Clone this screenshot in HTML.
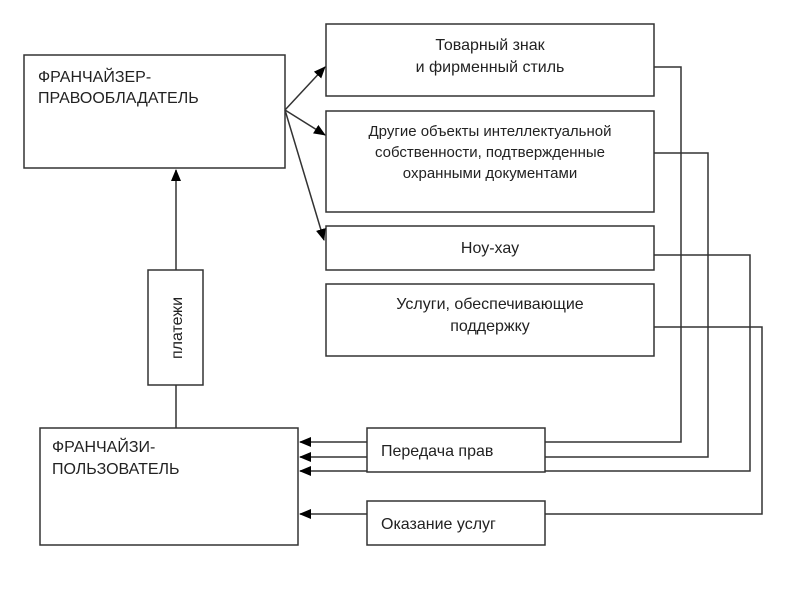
<!DOCTYPE html>
<html><head><meta charset="utf-8"><style>
body{margin:0;background:#fff}
svg text{font-family:"Liberation Sans",sans-serif;font-size:16px;fill:#222}
</style></head><body>
<svg width="800" height="600" viewBox="0 0 800 600" xmlns="http://www.w3.org/2000/svg">
<defs><marker id="a" markerWidth="12" markerHeight="10" refX="11" refY="5" orient="auto" markerUnits="userSpaceOnUse"><path d="M0,0 L12,5 L0,10 z" fill="#000"/></marker></defs>
<g fill="none" stroke="#333" stroke-width="1.5">
<rect x="24" y="55" width="261" height="113"/>
<rect x="40" y="428" width="258" height="117"/>
<rect x="148" y="270" width="55" height="115"/>
<rect x="326" y="24" width="328" height="72"/>
<rect x="326" y="111" width="328" height="101"/>
<rect x="326" y="226" width="328" height="44"/>
<rect x="326" y="284" width="328" height="72"/>
<rect x="367" y="428" width="178" height="44"/>
<rect x="367" y="501" width="178" height="44"/>
<path d="M176 270 V170" marker-end="url(#a)"/>
<path d="M176 385 V428"/>
<path d="M285 110 L325 67" marker-end="url(#a)"/>
<path d="M285 110 L325 135" marker-end="url(#a)"/>
<path d="M285 110 L324 240" marker-end="url(#a)"/>
<path d="M654 67 H681 V442 H545"/>
<path d="M654 153 H708 V457 H545"/>
<path d="M654 255 H750 V471 H545"/>
<path d="M654 327 H762 V514 H545"/>
<path d="M367 442 H300" marker-end="url(#a)"/>
<path d="M367 457 H300" marker-end="url(#a)"/>
<path d="M367 471 H300" marker-end="url(#a)"/>
<path d="M367 514 H300" marker-end="url(#a)"/>
</g>
<text x="38" y="82">ФРАНЧАЙЗЕР-</text>
<text x="38" y="103">ПРАВООБЛАДАТЕЛЬ</text>
<text x="52" y="452">ФРАНЧАЙЗИ-</text>
<text x="52" y="474">ПОЛЬЗОВАТЕЛЬ</text>
<text transform="translate(182,328) rotate(-90)" text-anchor="middle">платежи</text>
<g text-anchor="middle">
<text x="490" y="50">Товарный знак</text>
<text x="490" y="72">и фирменный стиль</text>
<text x="490" y="136" style="font-size:15px">Другие объекты интеллектуальной</text>
<text x="490" y="157" style="font-size:15px">собственности, подтвержденные</text>
<text x="490" y="178" style="font-size:15px">охранными документами</text>
<text x="490" y="253">Ноу-хау</text>
<text x="490" y="309">Услуги, обеспечивающие</text>
<text x="490" y="331">поддержку</text>
</g>
<text x="381" y="456">Передача прав</text>
<text x="381" y="529">Оказание услуг</text>
</svg>
</body></html>
